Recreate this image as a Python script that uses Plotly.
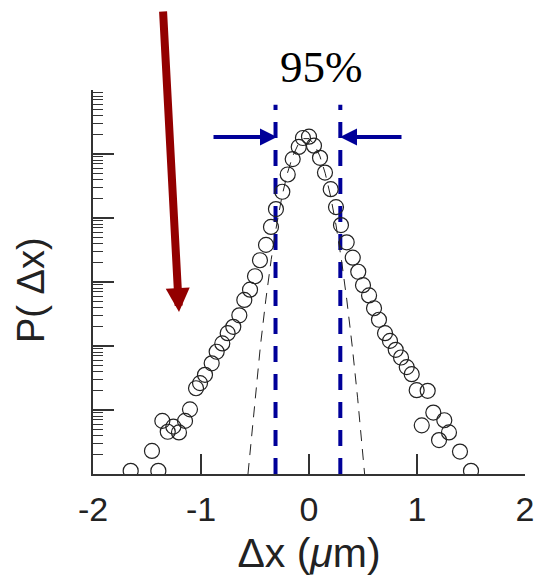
import numpy as np
import plotly.graph_objects as go

# Measured displacement distribution (x in um, log10 of P)
dx = [-1.651, -1.454, -1.395, -1.358, -1.308, -1.256, -1.204, -1.148, -1.102, -1.046,
      -1.009, -0.963, -0.901, -0.855, -0.803, -0.753, -0.701, -0.645, -0.599, -0.546,
      -0.500, -0.454, -0.398, -0.352, -0.306, -0.247, -0.197, -0.151, -0.095, -0.056,
      0.000, 0.046, 0.102, 0.148, 0.201, 0.250, 0.296, 0.349, 0.405, 0.456,
      0.500, 0.556, 0.602, 0.648, 0.704, 0.750, 0.803, 0.852, 0.905, 0.951,
      0.997, 1.044, 1.099, 1.151, 1.204, 1.253, 1.296, 1.398, 1.500]
logP = [0.05, 0.36, 0.05, 0.83, 0.66, 0.74, 0.65, 0.83, 1.01, 1.34,
        1.42, 1.55, 1.73, 1.91, 2.04, 2.20, 2.30, 2.48, 2.72, 2.88,
        3.09, 3.34, 3.58, 3.86, 4.14, 4.41, 4.68, 4.92, 5.11, 5.25,
        5.27, 5.13, 4.94, 4.71, 4.45, 4.17, 3.89, 3.62, 3.38, 3.16,
        2.95, 2.79, 2.59, 2.41, 2.20, 2.08, 1.94, 1.82, 1.67, 1.56,
        1.31, 0.76, 1.30, 0.96, 0.53, 0.84, 0.65, 0.35, 0.05]

# Gaussian fit curve (dashed)
fit_x = [-0.565, -0.50, -0.45, -0.40, -0.35, -0.30, -0.25, -0.20, -0.15, -0.10, -0.05,
         0.00, 0.05, 0.10, 0.15, 0.20, 0.25, 0.30, 0.35, 0.40, 0.45, 0.515]
fit_logP = [0.0, 1.19, 2.0, 2.72, 3.35, 3.89, 4.34, 4.70, 4.97, 5.15, 5.24,
            5.24, 5.15, 4.97, 4.70, 4.34, 3.89, 3.35, 2.72, 2.0, 1.19, 0.0]

# 95% bounds
bounds = [-0.31, 0.29]
bound_top_logP = 5.77

xticks = [-2, -1, 0, 1, 2]
xtick_text = ["-2", "-1", "0", "1", "2"]

BLUE = "#000099"
RED = "#930000"

fig = go.Figure()

for b in bounds:
    fig.add_trace(go.Scatter(
        x=[b, b], y=[1, 10 ** bound_top_logP], mode="lines",
        line=dict(color=BLUE, width=4, dash="16px,12px"),
        showlegend=False, hoverinfo="skip"))

fig.add_trace(go.Scatter(
    x=fit_x, y=[10 ** v for v in fit_logP], mode="lines",
    line=dict(color="#222222", width=1, dash="11px,8px"),
    showlegend=False, hoverinfo="skip"))

fig.add_trace(go.Scatter(
    x=dx, y=[10 ** v for v in logP], mode="markers",
    marker=dict(symbol="circle-open", size=15, color="#222222", line=dict(width=1.2)),
    showlegend=False))

L, R, T, B = 93, 11, 90, 104
W, H = 536, 578
pw, ph = W - L - R, H - T - B

def px(xp):
    return (xp - L) / pw

def py(yp):
    return (H - B - yp) / ph

annotations = [
    # big dark red arrow
    dict(x=px(179), y=py(312), xref="paper", yref="paper", ax=-16, ay=-302,
         axref="pixel", ayref="pixel", text="", showarrow=True,
         arrowhead=2, arrowsize=0.6, arrowwidth=8, arrowcolor=RED, standoff=0),
    # blue arrows
    dict(x=px(277), y=py(137), xref="paper", yref="paper", ax=-65, ay=0,
         text="", showarrow=True, arrowhead=2, arrowsize=0.85, arrowwidth=4,
         arrowcolor=BLUE, standoff=0),
    dict(x=px(340), y=py(137), xref="paper", yref="paper", ax=63, ay=0,
         text="", showarrow=True, arrowhead=2, arrowsize=0.85, arrowwidth=4,
         arrowcolor=BLUE, standoff=0),
    dict(x=px(321), y=py(67), xref="paper", yref="paper", text="95%",
         xanchor="center", yanchor="middle",
         showarrow=False, font=dict(family="Liberation Serif", size=45, color="black")),
    dict(x=px(31), y=py(290), xref="paper", yref="paper", text="P( Δx)",
         xanchor="center", yanchor="middle",
         textangle=-90, showarrow=False,
         font=dict(family="Liberation Sans", size=38, color="#222222")),
]

fig.update_layout(
    width=W, height=H,
    margin=dict(l=L, r=R, t=T, b=B, autoexpand=False),
    paper_bgcolor="white", plot_bgcolor="white",
    annotations=annotations,
    xaxis=dict(range=[-2, 2], tickvals=xticks, ticktext=xtick_text,
               automargin=False,
               ticks="inside", ticklen=20, tickwidth=1.5, tickcolor="#333333",
               showline=True, linecolor="#333333", linewidth=1.5,
               showgrid=False, zeroline=False, ticklabelstandoff=4,
               tickfont=dict(family="Liberation Sans", size=34, color="#222222"),
               title=dict(text="Δx (<i>μ</i>m)", standoff=12,
                          font=dict(family="Liberation Sans", size=41, color="#222222"))),
    yaxis=dict(type="log", range=[0, 6], dtick=1, automargin=False,
               ticks="inside", ticklen=21, tickwidth=1.5, tickcolor="#333333",
               showticklabels=False,
               minor=dict(ticks="inside", ticklen=10, tickwidth=1.2, tickcolor="#333333", dtick="D1"),
               showline=True, linecolor="#333333", linewidth=1.5,
               showgrid=False, zeroline=False),
)

fig.write_html("out.html")
